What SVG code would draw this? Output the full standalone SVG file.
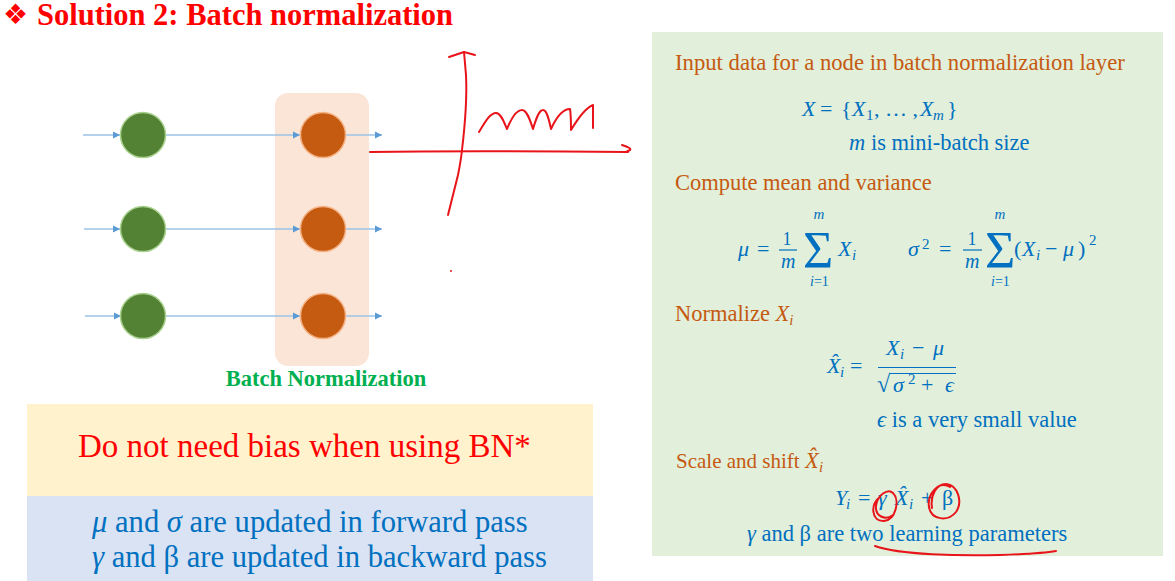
<svg xmlns="http://www.w3.org/2000/svg" width="1175" height="581" viewBox="0 0 1175 581">
<defs>
<marker id="arr" markerWidth="8" markerHeight="8" refX="7" refY="4" orient="auto" markerUnits="userSpaceOnUse"><path d="M0,0.5 L7,4 L0,7.5 Z" fill="#5b9bd5"/></marker>
</defs>
<style>
.t{font-family:"Liberation Serif","Times New Roman",serif}
.or{fill:#c55a11}
.bl{fill:#0070c0}
.i{font-style:italic}
.hw{fill:none;stroke:#e8141a;stroke-width:2;stroke-linecap:round;stroke-linejoin:round}
.conn{stroke:#9dc3e6;stroke-width:1.5;fill:none;marker-end:url(#arr)}
.gn{fill:#548235;stroke:#a9d18e;stroke-width:1.5}
.on{fill:#c55a11;stroke:#f4b183;stroke-width:1.5}
.bar{stroke:#0070c0;stroke-width:1.2}
</style>
<rect width="1175" height="581" fill="#ffffff"/>

<g id="title">
<text x="3" y="24" font-family="DejaVu Sans" font-size="28" fill="#ff0000">❖</text>
<text x="37" y="25" class="t" font-weight="bold" font-size="30.5" fill="#ff0000">Solution 2: Batch normalization</text>
</g>

<g id="bn-layer">
<rect x="275" y="93" width="94" height="273" rx="13" fill="#fbe5d6"/>
<text x="326" y="386" class="t" font-weight="bold" font-size="22.5" fill="#00b050" text-anchor="middle">Batch Normalization</text>
</g>

<g id="connectors">
<path class="conn" d="M83,135 L120,135"/>
<path class="conn" d="M165,135 L300,135"/>
<path class="conn" d="M346,135 L382,135"/>
<path class="conn" d="M84,229 L120,229"/>
<path class="conn" d="M165,229 L300,229"/>
<path class="conn" d="M346,229 L382,229"/>
<path class="conn" d="M85,316 L121,316"/>
<path class="conn" d="M165,316 L300,316"/>
<path class="conn" d="M346,316 L382,316"/>
</g>

<g id="in1"><circle class="gn" cx="143" cy="135" r="22.5"/></g>
<g id="in2"><circle class="gn" cx="143" cy="229" r="22.5"/></g>
<g id="in3"><circle class="gn" cx="143" cy="316" r="22.5"/></g>
<g id="bn1"><circle class="on" cx="323" cy="135" r="22.5"/></g>
<g id="bn2"><circle class="on" cx="323" cy="229" r="22.5"/></g>
<g id="bn3"><circle class="on" cx="323" cy="316" r="22.5"/></g>

<g id="sketch">
<path class="hw" d="M448,215 Q453,195 458,175 Q461,160 462,150 C465,125 467,95 466,75 L464,52"/>
<path class="hw" d="M449,57 L464,52 L475,55"/>
<path class="hw" d="M370,152 C430,151 520,151 628,152"/>
<path class="hw" d="M622,145 Q632,148 630,150 L626,152"/>
<path class="hw" d="M479,132 C485,122 490,113 496,113 C501,113 504,122 507,129 C511,119 516,110 522,110 C527,110 530,120 533,129 C536,119 539,110 543,110 C547,110 549,120 551,129 C556,118 563,109 570,109 C571,115 571,124 571,130 C577,120 585,108 593,105 C593,112 593,120 593,128"/>
<circle cx="451" cy="271" r="1" fill="#e8141a"/>
</g>

<g id="formula-panel">
<rect x="652" y="32" width="511" height="524" fill="#e2efda"/>
<g class="t" font-size="22.5">
<text x="675" y="70" class="or" font-size="22.7">Input data for a node in batch normalization layer</text>
<text class="bl" font-size="22"><tspan x="802" y="116" class="i">X</tspan><tspan x="820" y="116">=</tspan><tspan x="841" y="116">{</tspan><tspan x="852" y="116" class="i">X</tspan><tspan x="866" y="120" font-size="15">1</tspan><tspan x="874" y="116">, … ,</tspan><tspan x="920" y="116" class="i">X</tspan><tspan x="933" y="120" font-size="15" class="i">m</tspan><tspan x="947" y="116">}</tspan></text>
<text x="849" y="150" class="bl"><tspan class="i">m</tspan> is mini-batch size</text>

<text x="675" y="190" class="or">Compute mean and variance</text>
<text class="bl" font-size="22"><tspan x="738" y="256" class="i">μ</tspan><tspan x="757" y="256">=</tspan><tspan x="782.5" y="245" font-size="18">1</tspan><tspan x="781" y="268" class="i" font-size="20">m</tspan><tspan x="803" y="268" font-size="52">Σ</tspan><tspan x="813.5" y="219" class="i" font-size="15">m</tspan><tspan x="810" y="286" font-size="14" class="i">i</tspan><tspan font-size="14">=1</tspan><tspan x="838" y="256" class="i">X</tspan><tspan x="852" y="260" class="i" font-size="15">i</tspan></text>
<line class="bar" x1="779" y1="250" x2="797" y2="250"/>

<text class="bl" font-size="22"><tspan x="908" y="256" class="i">σ</tspan><tspan x="922" y="249" font-size="15">2</tspan><tspan x="939" y="256">=</tspan><tspan x="967.5" y="245" font-size="18">1</tspan><tspan x="965" y="268" class="i" font-size="20">m</tspan><tspan x="985" y="268" font-size="52">Σ</tspan><tspan x="994.5" y="219" class="i" font-size="15">m</tspan><tspan x="991" y="286" font-size="14" class="i">i</tspan><tspan font-size="14">=1</tspan><tspan x="1014" y="256">(</tspan><tspan x="1022" y="256" class="i">X</tspan><tspan x="1036" y="260" class="i" font-size="15">i</tspan><tspan x="1045" y="256">−</tspan><tspan x="1063" y="256" class="i">μ</tspan><tspan x="1078" y="256">)</tspan><tspan x="1089" y="245" font-size="15">2</tspan></text>
<line class="bar" x1="963" y1="250" x2="982" y2="250"/>

<text x="675" y="321" class="or">Normalize <tspan class="i">X</tspan><tspan class="i" font-size="15" dy="4">i</tspan></text>
<text class="bl" font-size="22"><tspan x="827" y="373" class="i">X̂</tspan><tspan x="840" y="377" class="i" font-size="15">i</tspan><tspan x="850" y="373">=</tspan><tspan x="886" y="355" class="i">X</tspan><tspan x="900" y="359" class="i" font-size="15">i</tspan><tspan x="912" y="355">−</tspan><tspan x="933" y="355" class="i">μ</tspan><tspan x="877" y="392" font-size="24">√</tspan><tspan x="893" y="392" class="i">σ</tspan><tspan x="908" y="384" font-size="15">2</tspan><tspan x="921" y="392">+</tspan><tspan x="945" y="392" class="i">ϵ</tspan></text>
<line class="bar" x1="878" y1="367.5" x2="956" y2="367.5"/>
<line class="bar" x1="890" y1="373.5" x2="956" y2="373.5"/>
<text x="877" y="427" class="bl"><tspan class="i">ϵ</tspan> is a very small value</text>

<text class="or"><tspan x="676" y="468" font-size="21">Scale and shift</tspan><tspan x="805" y="468" class="i">X̂</tspan><tspan x="819" y="472" class="i" font-size="15">i</tspan></text>
<text class="bl" font-size="22"><tspan x="835" y="505" class="i">Y</tspan><tspan x="846" y="509" class="i" font-size="15">i</tspan><tspan x="858" y="505">=</tspan><tspan x="878" y="505" class="i">γ</tspan><tspan x="895" y="505" class="i">X̂</tspan><tspan x="909" y="509" class="i" font-size="15">i</tspan><tspan x="921" y="505">+</tspan><tspan x="942" y="505">β</tspan></text>
<text x="747" y="541" class="bl"><tspan class="i">γ</tspan> and β are two learning parameters</text>
</g>
<path class="hw" d="M880,497 C870,503 871,522 884,521 C896,520 900,500 893,493 C888,488 877,495 876,506 C875,516 885,521 893,515"/>
<path class="hw" d="M950,487 C938,480 927,495 929,507 C931,520 948,522 956,512 C963,502 958,485 946,484 C936,484 930,496 932,508"/>
<path class="hw" d="M875,546 C900,555 960,556 1000,555 C1030,554 1045,553 1056,551"/>
</g>

<g id="note-bias">
<rect x="27" y="404" width="566" height="92" fill="#fff2cc"/>
<text x="78" y="457" class="t" font-size="33" fill="#ff0000">Do not need bias when using BN*</text>
</g>
<g id="note-updates">
<rect x="27" y="496" width="566" height="85" fill="#dae3f3"/>
<text x="92" y="532" class="t bl" font-size="30.6"><tspan class="i">μ</tspan> and <tspan class="i">σ</tspan> are updated in forward pass</text>
<text x="92" y="567" class="t bl" font-size="30.6"><tspan class="i">γ</tspan> and β are updated in backward pass</text>
</g>
</svg>
